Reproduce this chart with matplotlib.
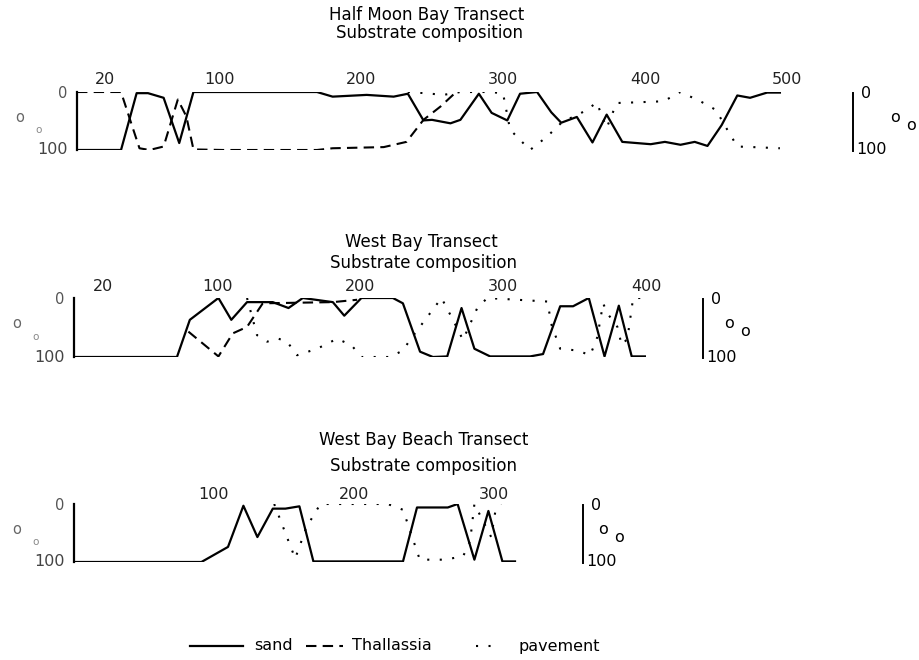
import matplotlib
matplotlib.use('Agg')
import matplotlib.pyplot as plt
from matplotlib.lines import Line2D

plt.rcParams['font.family'] = ['DejaVu Sans']

# ---------------- data ----------------
panel_titles = ["Half Moon Bay Transect", "West Bay Transect", "West Bay Beach Transect"]
panel_subtitle = "Substrate composition"
series_names = ["sand", "Thallassia", "pavement"]

hmb_ticks = [20, 100, 200, 300, 400, 500]
wb_ticks = [20, 100, 200, 300, 400]
wbb_ticks = [100, 200, 300]

# Half Moon Bay
hmb_sand_x = [0, 31, 42, 50, 61, 72, 82, 169, 180, 204, 223, 233, 244, 250, 263, 270, 283, 292, 303, 312,
              324, 334, 341, 352, 363, 373, 384, 404, 414, 425, 435, 444, 454, 465, 474, 486, 495]
hmb_sand_y = [100, 100, 2, 2, 10, 88, 0, 0, 8, 5, 8, 3, 49, 48, 54, 48, 3, 36, 49, 3,
              0, 35, 53, 43, 87, 39, 86, 90, 86, 91, 86, 93, 57, 6, 10, 1, 1]
hmb_thal_x = [0, 31, 39, 44, 51, 61, 71, 77, 82, 103, 169, 180, 216, 232, 244, 256, 267]
hmb_thal_y = [0, 0, 60, 97, 100, 94, 13, 42, 99, 100, 100, 97, 95, 86, 48, 25, 0]
hmb_pave_x = [233, 245, 258, 270, 290, 300, 305, 319, 331, 342, 352, 359, 366, 373, 380, 392, 413, 425,
              439, 450, 456, 465, 476, 495]
hmb_pave_y = [0, 2, 5, 0, 0, 2, 65, 100, 77, 51, 40, 31, 18, 62, 19, 18, 16, 0,
              16, 31, 57, 94, 95, 97]

# West Bay
wb_sand_x = [0, 72, 81, 101, 110, 121, 139, 150, 160, 181, 189, 201, 223, 230, 242, 251, 261, 271, 280,
             291, 319, 328, 340, 349, 360, 371, 381, 390, 401]
wb_sand_y = [100, 100, 37, 0, 37, 7, 7, 17, 0, 7, 30, 0, 0, 9, 91, 100, 99, 17, 86,
             99, 99, 95, 14, 14, 0, 99, 13, 99, 99]
wb_thal_x = [80, 101, 111, 121, 132, 181, 198]
wb_thal_y = [57, 99, 60, 49, 9, 7, 3]
wb_pave_x = [121, 128, 135, 143, 149, 156, 170, 184, 194, 201, 213, 221, 230, 235, 257, 265, 272, 282,
             289, 331, 334, 340, 352, 361, 366, 370, 373, 380, 383, 387, 391, 398]
wb_pave_y = [0, 63, 74, 69, 74, 97, 86, 69, 80, 100, 100, 100, 89, 71, 0, 37, 71, 17,
             0, 6, 46, 86, 89, 97, 66, 9, 26, 49, 80, 69, 0, 0]

# West Bay Beach
wbb_sand_x = [0, 91, 110, 121, 131, 142, 151, 161, 171, 235, 245, 267, 274, 286, 296, 306, 315]
wbb_sand_y = [100, 100, 74, 3, 57, 8, 8, 4, 99, 99, 6, 6, 0, 96, 12, 99, 99]
wbb_pave_x = [143, 158, 166, 176, 186, 203, 224, 235, 247, 265, 278, 283, 286, 298, 301, 305]
wbb_pave_y = [0, 94, 40, 0, 0, 0, 0, 10, 96, 96, 90, 63, 0, 57, 12, 0]

# ---------------- figure ----------------
W, H = 919, 660
fig = plt.figure(figsize=(W / 100, H / 100), dpi=100)
FS = 11.5
FS_T = 12


def fx(x):
    return x / W


def fy(y):
    return 1 - y / H


SOLID = dict(color='black', lw=1.6, ls='-')
DASH = dict(color='black', lw=1.5, ls=(0, (5, 3)))
DOT = dict(color='black', lw=1.5, ls=(0, (1, 5)))


def make_axes(x0, y0, y1, px_per_unit, xmax, ticks, pad):
    width = px_per_unit * xmax
    ax = fig.add_axes([fx(x0), fy(y1), width / W, (y1 - y0) / H])
    ax.set_xlim(0, xmax)
    ax.set_ylim(100, 0)
    for s in ['top', 'right', 'bottom']:
        ax.spines[s].set_visible(False)
    ax.spines['left'].set_linewidth(1.6)
    ax.xaxis.tick_top()
    ax.set_xticks(ticks)
    ax.set_xticklabels([str(t) for t in ticks])
    ax.tick_params(axis='x', length=0, pad=pad, labelsize=FS, labelcolor='#222')
    ax.set_yticks([])
    ax.patch.set_alpha(0)
    return ax


def decorate(x0, y0, y1, title, title_x, title_y, sub_x, sub_y, bracket_x, r_off):
    fig.text(fx(title_x), fy(title_y), title, ha='center', va='center', fontsize=FS_T)
    fig.text(fx(sub_x), fy(sub_y), panel_subtitle, ha='center', va='center', fontsize=FS_T)
    # left axis labels
    fig.text(fx(x0 - 10), fy(y0 + 2), "0", ha='right', va='center', fontsize=FS - 1, color='#555')
    fig.text(fx(x0 - 9), fy(y1), "100", ha='right', va='center', fontsize=FS, color='#444')
    ym = (y0 + y1) / 2
    fig.text(fx(x0 - 57), fy(ym - 4), "o", ha='center', va='center', fontsize=FS - 1, color='#666')
    fig.text(fx(x0 - 38), fy(ym + 9), "o", ha='center', va='center', fontsize=FS - 4, color='#888')
    # right bracket with percent sign
    fig.add_artist(Line2D([fx(bracket_x), fx(bracket_x)], [fy(y0 + 1), fy(y1 + 1)],
                          color='black', lw=1.4))
    fig.text(fx(bracket_x + 8), fy(y0 + 2), "0", ha='left', va='center', fontsize=FS)
    fig.text(fx(bracket_x + 3), fy(y1), "100", ha='left', va='center', fontsize=FS)
    fig.text(fx(bracket_x + r_off[0]), fy(ym - 4), "o", ha='center', va='center', fontsize=FS)
    fig.text(fx(bracket_x + r_off[1]), fy(ym + 4), "o", ha='center', va='center', fontsize=FS)


# Panel 1 : Half Moon Bay
ax1 = make_axes(77, 92, 150, 1.42, 500, hmb_ticks, 3.5)
ax1.plot(hmb_sand_x, hmb_sand_y, **SOLID)
ax1.plot(hmb_thal_x, hmb_thal_y, **DASH)
ax1.plot(hmb_pave_x, hmb_pave_y, **DOT)
decorate(77, 92, 150, panel_titles[0], 427, 15, 429, 33, 853, (42, 58))

# Panel 2 : West Bay
ax2 = make_axes(74, 298, 357, 1.43, 400, wb_ticks, 3.0)
ax2.plot(wb_sand_x, wb_sand_y, **SOLID)
ax2.plot(wb_thal_x, wb_thal_y, **DASH)
ax2.plot(wb_pave_x, wb_pave_y, **DOT)
decorate(74, 298, 357, panel_titles[1], 421, 242, 424, 263, 703, (26, 42))

# Panel 3 : West Bay Beach
ax3 = make_axes(74, 504, 562, 1.40, 400, wbb_ticks, 1.5)
ax3.plot(wbb_sand_x, wbb_sand_y, **SOLID)
ax3.plot(wbb_pave_x, wbb_pave_y, **DOT)
decorate(74, 504, 562, panel_titles[2], 424, 440, 424, 466, 583, (20, 36))

# Legend (manual, handles of different lengths as in the original)
LEG_Y = 646
legend_items = [(190, 243, SOLID, 254, series_names[0]),
                (306, 343, DASH, 352, series_names[1]),
                (476, 498, DOT, 518, series_names[2])]
for (hx0, hx1, sty, tx, label) in legend_items:
    fig.add_artist(Line2D([fx(hx0), fx(hx1)], [fy(LEG_Y), fy(LEG_Y)], **sty))
    fig.text(fx(tx), fy(LEG_Y), label, ha='left', va='center', fontsize=FS)

fig.savefig('out.png', dpi=100)
